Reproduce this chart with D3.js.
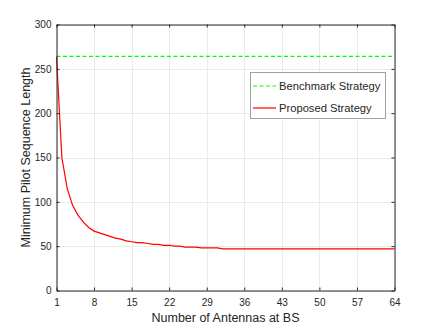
<!DOCTYPE html>
<html>
<head>
<meta charset="utf-8">
<script src="https://cdn.jsdelivr.net/npm/d3@7"></script>
<style>
  body { margin: 0; background: #fff; }
  text { font-family: "Liberation Sans", Arial, sans-serif; fill: #262626; }
</style>
</head>
<body>
<script>
// data
var antennas = d3.range(1, 65);
var benchmark = antennas.map(function() { return 264; });
var proposed = [264, 150, 115, 96, 85, 77, 71, 67, 65, 63,
                61, 59, 58, 56, 55, 54, 54, 53, 52, 52,
                51, 51, 50, 50, 49, 49, 49, 48, 48, 48,
                48, 47, 47, 47, 47, 47, 47, 47, 47, 47,
                47, 47, 47, 47, 47, 47, 47, 47, 47, 47,
                47, 47, 47, 47, 47, 47, 47, 47, 47, 47,
                47, 47, 47, 47];
var xTicks = [1, 8, 15, 22, 29, 36, 43, 50, 57, 64];
var yTicks = [0, 50, 100, 150, 200, 250, 300];
var seriesNames = ["Benchmark Strategy", "Proposed Strategy"];

var w = 436, h = 327;
var pLeft = 56.5, pRight = 394.5, pTop = 24.5, pBottom = 290.5;

var svg = d3.select("body").append("svg")
	.attr("width", w)
	.attr("height", h);

var x = d3.scaleLinear().domain([1, 64]).range([pLeft, pRight]);
var y = d3.scaleLinear().domain([0, 300]).range([pBottom, pTop]);

// grid
svg.selectAll("line.gx")
   .data(xTicks)
   .enter()
   .append("line")
   .attr("x1", function(d) { return Math.round(x(d)) + 0.5; })
   .attr("x2", function(d) { return Math.round(x(d)) + 0.5; })
   .attr("y1", pTop).attr("y2", pBottom)
   .attr("stroke", "#ebebeb");
svg.selectAll("line.gy")
   .data(yTicks)
   .enter()
   .append("line")
   .attr("y1", function(d) { return Math.round(y(d)) + 0.5; })
   .attr("y2", function(d) { return Math.round(y(d)) + 0.5; })
   .attr("x1", pLeft).attr("x2", pRight)
   .attr("stroke", "#ebebeb");

// lines
var line = d3.line()
	.x(function(d, i) { return x(antennas[i]); })
	.y(function(d) { return y(d); });

svg.append("path")
   .attr("d", line(benchmark))
   .attr("fill", "none")
   .attr("stroke", "#00ff00")
   .attr("stroke-width", 1.2)
   .attr("stroke-dasharray", "4,2.5");
svg.append("path")
   .attr("d", line(proposed))
   .attr("fill", "none")
   .attr("stroke", "#ff0000")
   .attr("stroke-width", 1.2);

// axes (ticks inward, box on)
svg.append("g").attr("transform", "translate(0," + pBottom + ")")
	.call(d3.axisBottom(x).tickValues(xTicks).tickSizeInner(-3).tickSizeOuter(0).tickPadding(8));
svg.append("g").attr("transform", "translate(0," + pTop + ")")
	.call(d3.axisTop(x).tickValues(xTicks).tickSizeInner(-3).tickSizeOuter(0).tickFormat(""));
svg.append("g").attr("transform", "translate(" + pLeft + ",0)")
	.call(d3.axisLeft(y).tickValues(yTicks).tickSizeInner(-3).tickSizeOuter(0).tickPadding(5));
svg.append("g").attr("transform", "translate(" + pRight + ",0)")
	.call(d3.axisRight(y).tickValues(yTicks).tickSizeInner(-3).tickSizeOuter(0).tickFormat(""));

svg.selectAll(".domain, .tick line").attr("stroke", "#262626");
svg.selectAll(".tick text")
   .attr("font-family", "Liberation Sans, Arial, sans-serif")
   .attr("font-size", "10px")
   .attr("fill", "#262626");

// axis labels
svg.append("text")
   .attr("x", (pLeft + pRight) / 2)
   .attr("y", 322)
   .attr("text-anchor", "middle")
   .attr("font-size", "12.5px")
   .text("Number of Antennas at BS");
svg.append("text")
   .attr("transform", "translate(30," + ((pTop + pBottom) / 2) + ") rotate(-90)")
   .attr("text-anchor", "middle")
   .attr("font-size", "12.5px")
   .text("Minimum Pilot Sequence Length");

// legend
var lg = svg.append("g");
lg.append("rect")
  .attr("x", 250.5).attr("y", 72.5)
  .attr("width", 135).attr("height", 46)
  .attr("fill", "#fff")
  .attr("stroke", "#a0a0a0");
var colors = ["#00ff00", "#ff0000"];
var dashes = ["4,2.5", "none"];
lg.selectAll("line.lg")
  .data(seriesNames)
  .enter()
  .append("line")
  .attr("x1", 253).attr("x2", 276)
  .attr("y1", function(d, i) { return 86 + i * 22; })
  .attr("y2", function(d, i) { return 86 + i * 22; })
  .attr("stroke", function(d, i) { return colors[i]; })
  .attr("stroke-width", 1.2)
  .attr("stroke-dasharray", function(d, i) { return dashes[i]; });
lg.selectAll("text.lg")
  .data(seriesNames)
  .enter()
  .append("text")
  .attr("x", 279)
  .attr("y", function(d, i) { return 90 + i * 22; })
  .attr("font-size", "11.2px")
  .text(function(d) { return d; });
</script>
</body>
</html>
